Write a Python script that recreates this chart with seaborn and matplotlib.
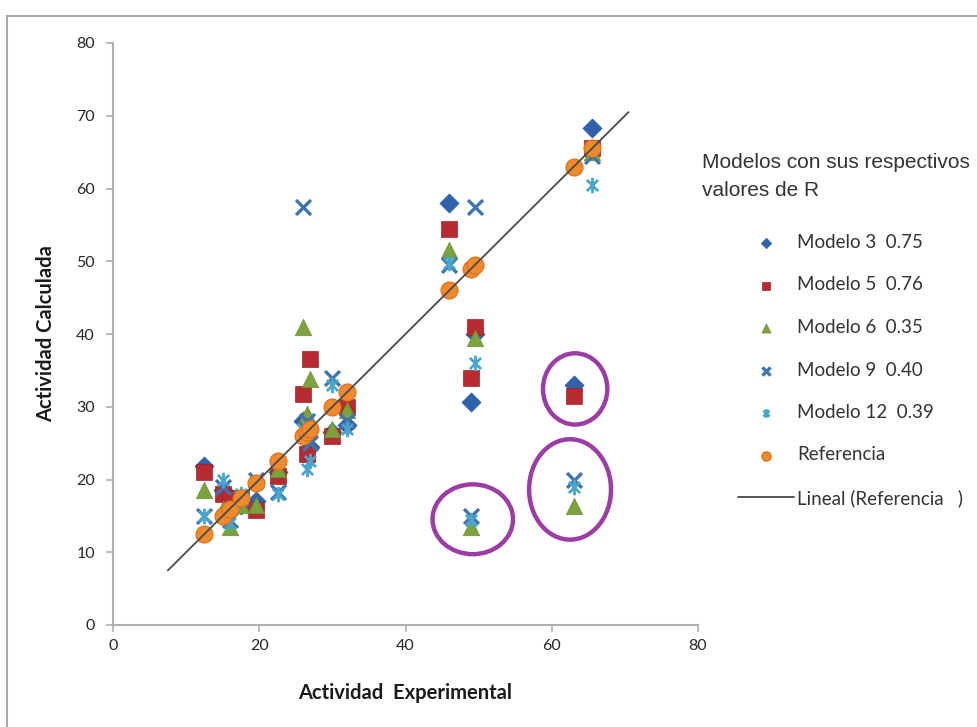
import numpy as np
import pandas as pd
import seaborn as sns
import matplotlib.pyplot as plt
from matplotlib.path import Path
from matplotlib.patches import Ellipse, Rectangle

# Experimental activity of each compound and the activity calculated by each model
actividad_experimental = [12.5, 15.0, 16.0, 17.5, 19.5, 22.5, 26.0, 26.5, 27.0, 30.0, 32.0, 46.0, 49.0, 49.5, 63.0, 65.5]
referencia = [12.5, 15.0, 16.0, 17.5, 19.5, 22.5, 26.0, 26.5, 27.0, 30.0, 32.0, 46.0, 49.0, 49.5, 63.0, 65.5]
modelo_3 = [21.8, 18.5, 17.0, 16.5, 17.0, 21.0, 28.0, 26.0, 24.5, 26.5, 27.5, 58.0, 30.6, 40.0, 33.0, 68.3]
modelo_5 = [21.0, 18.0, 17.5, 17.5, 15.8, 20.5, 31.8, 23.5, 36.6, 26.0, 30.0, 54.5, 34.0, 41.0, 31.5, 65.5]
modelo_6 = [18.5, 16.0, 13.5, 16.5, 16.5, 21.5, 41.0, 29.0, 33.8, 27.0, 29.5, 51.5, 13.5, 39.5, 16.3, 65.0]
modelo_9 = [15.0, 19.0, 14.5, 17.5, 20.0, 18.3, 57.5, 28.0, 25.0, 34.0, 28.0, 49.5, 15.0, 57.5, 20.0, 64.5]
modelo_12 = [15.0, 20.0, 14.0, 18.0, 19.5, 18.0, 27.0, 21.5, 22.5, 33.0, 27.0, 49.8, 14.5, 36.0, 19.0, 60.5]

etiquetas = ["Modelo 3  0.75", "Modelo 5  0.76", "Modelo 6  0.35",
             "Modelo 9  0.40", "Modelo 12  0.39", "Referencia"]
etiqueta_lineal = "Lineal (Referencia   )"
titulo_leyenda = ["Modelos con sus respectivos", "valores de R"]

x_ticks = [0, 20, 40, 60, 80]
y_ticks = [0, 10, 20, 30, 40, 50, 60, 70, 80]

sns.set_theme(style="white")
plt.rcParams["font.family"] = ["Lato", "DejaVu Sans"]

W, H = 977, 727
fig = plt.figure(figsize=(W / 100, H / 100), dpi=100)
ax = fig.add_axes([113 / W, 1 - 625 / H, 585 / W, 582 / H])

# asterisk marker: an x with a vertical bar
asterisco = Path([(0, -1), (0, 1), (-0.72, -0.72), (0.72, 0.72), (-0.72, 0.72), (0.72, -0.72)],
                 [Path.MOVETO, Path.LINETO, Path.MOVETO, Path.LINETO, Path.MOVETO, Path.LINETO])

datos = pd.DataFrame({
    "exp": actividad_experimental,
    etiquetas[0]: modelo_3,
    etiquetas[1]: modelo_5,
    etiquetas[2]: modelo_6,
    etiquetas[3]: modelo_9,
    etiquetas[4]: modelo_12,
    etiquetas[5]: referencia,
})

estilos = [
    dict(marker="D", s=95, color="#2F62AA", edgecolor="#2F62AA", linewidth=0.5),
    dict(marker="s", s=130, color="#B72A30", edgecolor="#9E2228", linewidth=0.5),
    dict(marker="^", s=140, color="#7BA23C", edgecolor="#6A8F32", linewidth=0.5),
    dict(marker="x", s=115, color="#3F74AE", linewidth=2.4),
    dict(marker=asterisco, s=125, color="#48A6CC", edgecolor="#48A6CC", linewidth=2.0),
    dict(marker="o", s=150, color="#F08A2C", edgecolor="#D9701A", linewidth=0.8),
]

for i, (nombre, kw) in enumerate(zip(etiquetas, estilos)):
    sns.scatterplot(data=datos, x="exp", y=nombre, ax=ax, label=nombre,
                    zorder=3 + i, **kw)

# linear trend of the reference series, extended 5 units each way
coef = np.polyfit(actividad_experimental, referencia, 1)
x_tend = np.array([min(actividad_experimental) - 5, max(actividad_experimental) + 5])
sns.lineplot(x=x_tend, y=np.polyval(coef, x_tend), ax=ax, color="#4A4A4A",
             linewidth=1.3, label=etiqueta_lineal, zorder=10)

# highlighted outliers
grupos = [
    (63.0, [modelo_3, modelo_5], 4.4, 4.9, 0.2),
    (63.0, [modelo_6, modelo_9, modelo_12], 5.6, 6.9, -0.5),
    (49.0, [modelo_6, modelo_9, modelo_12], 5.5, 4.8, 0.2),
]
for xv, modelos, rx, ry, dx in grupos:
    k = actividad_experimental.index(xv)
    yc = np.mean([m[k] for m in modelos])
    ax.add_patch(Ellipse((xv + dx, yc + 0.2), 2 * rx, 2 * ry, fill=False,
                         edgecolor="#9C3DA6", linewidth=3.2, zorder=12))

ax.set_xlim(0, 80)
ax.set_ylim(0, 80)
ax.set_xticks(x_ticks)
ax.set_yticks(y_ticks)
ax.set_xlabel("Actividad  Experimental", fontsize=14.5, fontweight="bold", color="#1A1A1A")
ax.set_ylabel("Actividad Calculada", fontsize=14.5, fontweight="bold", color="#1A1A1A")
ax.xaxis.set_label_coords(0.5, -0.1)
ax.yaxis.set_label_coords(-0.098, 0.5)

for lado in ["top", "right"]:
    ax.spines[lado].set_visible(False)
for lado in ["left", "bottom"]:
    ax.spines[lado].set_color("#B0B0B0")
    ax.spines[lado].set_linewidth(1.5)
ax.tick_params(axis="both", which="major", direction="out", length=5, width=1.2,
               color="#B0B0B0", labelsize=11.5, labelcolor="#262626", left=True, bottom=True)
ax.tick_params(axis="x", pad=5)
ax.tick_params(axis="y", pad=8)
ax.grid(False)

# legend on the right
manejadores, textos = ax.get_legend_handles_labels()
if ax.get_legend() is not None:
    ax.get_legend().remove()
fig.legend(manejadores, textos, loc="upper left", bbox_to_anchor=(738 / W, 1 - 234 / H),
           bbox_transform=fig.transFigure, frameon=False, fontsize=13.5,
           labelspacing=1.36, handlelength=3.0, handletextpad=0.15,
           markerscale=0.55, borderpad=0, borderaxespad=0, labelcolor="#333333")

for j, linea in enumerate(titulo_leyenda):
    fig.text(702 / W, 1 - (163 + 27 * j) / H, linea, ha="left", va="center",
             fontsize=15, family=["Liberation Sans", "DejaVu Sans"], color="#333333")

# chart area border
fig.patches.append(Rectangle((7 / W, -0.1), 1.2, 1.1 - 16 / H, transform=fig.transFigure,
                             fill=False, edgecolor="#A8A8A8", linewidth=1.5, figure=fig))

fig.savefig("out.png", dpi=100, facecolor="white")
